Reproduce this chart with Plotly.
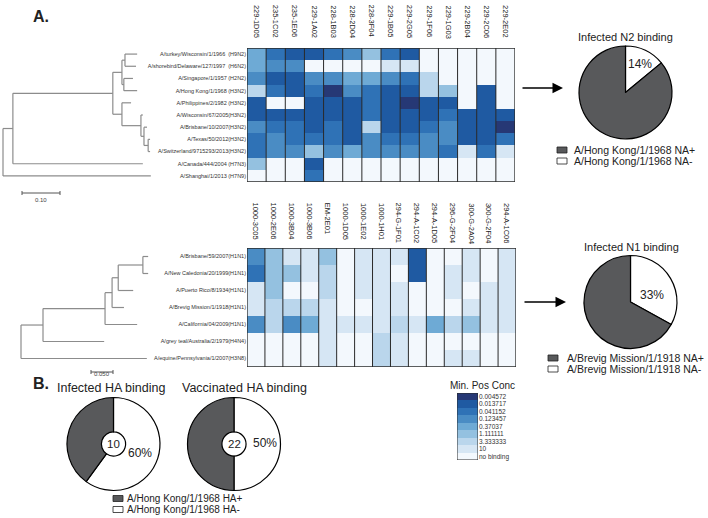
import plotly.graph_objects as go

W, H = 708, 518
def px(x): return x / W
def py(y): return 1 - y / H

FONT = "Arial, Liberation Sans, sans-serif"

# ---------------- data ----------------
top_strains = ["A/turkey/Wisconsin/1/1966  (H9N2)", "A/shorebird/Delaware/127/1997  (H6N2)",
               "A/Singapore/1/1957 (H2N2)", "A/Hong Kong/1/1968 (H3N2)", "A/Philippines/2/1982 (H3N2)",
               "A/Wisconsin/67/2005(H3N2)", "A/Brisbane/10/2007(H3N2)", "A/Texas/50/2012(H3N2)",
               "A/Switzerland/9715293/2013(H3N2)", "A/Canada/444/2004 (H7N3)", "A/Shanghai/1/2013 (H7N9)"]
top_mabs = ["229-1D05", "235-1C02", "235-1E06", "229-1A02", "228-1B03", "228-2D04", "228-3F04",
            "229-1B05", "229-2G05", "229-1F06", "229-1G03", "229-2B04", "229-2C06", "229-2E02"]
# binding level: 0 = no binding ... 8 = lowest min. positive concentration
top_levels = [
    [4, 6, 7, 7, 6, 5, 3, 6, 7, 0, 0, 0, 0, 0],
    [4, 5, 5, 0, 0, 0, 0, 1, 1, 0, 0, 0, 0, 0],
    [5, 7, 7, 5, 5, 4, 4, 5, 6, 2, 0, 0, 0, 0],
    [2, 6, 7, 6, 8, 5, 6, 7, 7, 2, 3, 0, 7, 0],
    [7, 0, 0, 7, 7, 7, 6, 7, 8, 7, 7, 0, 7, 0],
    [7, 7, 7, 7, 7, 7, 6, 7, 7, 7, 6, 7, 7, 7],
    [5, 6, 6, 7, 6, 7, 2, 7, 7, 6, 5, 7, 7, 8],
    [6, 5, 6, 6, 6, 7, 5, 6, 6, 5, 5, 7, 7, 6],
    [6, 5, 5, 3, 5, 4, 5, 5, 5, 5, 6, 1, 6, 1],
    [3, 0, 0, 7, 0, 0, 0, 0, 0, 0, 0, 0, 0, 0],
    [0, 0, 0, 6, 0, 0, 0, 0, 0, 0, 0, 0, 0, 0],
]

bot_strains = ["A/Brisbane/59/2007(H1N1)", "A/New Caledonia/20/1999(H1N1)", "A/Puerto Rico/8/1934(H1N1)",
               "A/Brevig Mission/1/1918(H1N1)", "A/California/04/2009(H1N1)",
               "A/grey teal/Australia/2/1979(H4N4)", "A/equine/Pennsylvania/1/2007(H3N8)"]
bot_mabs = ["1000-3C05", "1000-2E06", "1000-3B04", "1000-3B06", "EM-2E01", "1000-1D05", "1000-1E02",
            "1000-1H01", "294-G-1F01", "294-A-1C02", "294-A-1D05", "296-G-2F04", "300-G-2A04",
            "300-G-2F04", "294-A-1C06"]
bot_levels = [
    [5, 3, 1, 1, 3, 0, 1, 1, 1, 7, 0, 0, 1, 0, 1],
    [6, 3, 3, 1, 2, 0, 1, 1, 0, 7, 0, 1, 1, 0, 1],
    [1, 3, 0, 0, 2, 0, 1, 1, 1, 0, 0, 1, 0, 1, 1],
    [1, 2, 2, 2, 1, 0, 0, 1, 1, 0, 0, 0, 1, 1, 1],
    [5, 2, 5, 4, 1, 1, 1, 1, 2, 1, 4, 2, 3, 1, 1],
    [0, 0, 0, 0, 1, 0, 0, 2, 1, 0, 0, 0, 0, 0, 0],
    [0, 0, 0, 0, 1, 0, 0, 2, 1, 0, 0, 1, 1, 0, 0],
]

conc_labels = ["0.004572", "0.013717", "0.041152", "0.123457", "0.37037", "1.111111",
               "3.333333", "10", "no binding"]
conc_levels = [8, 7, 6, 5, 4, 3, 2, 1, 0]

# phylogenetic trees: (cumulative branch length, children or leaf row)
top_tree = (0.0, [
    (0.026, [
        (0.289, [
            (0.313, [
                (0.321, [(0.353, 0), (0.350, 1)]),
                (0.318, [(0.342, 2), (0.353, 3)]),
            ]),
            (0.313, [
                (0.337, 4),
                (0.363, [(0.368, 5),
                         (0.371, [(0.379, 6),
                                  (0.382, [(0.387, 7), (0.387, 8)])])]),
            ]),
        ]),
        (0.368, 9),
    ]),
    (0.389, 10),
])
bot_tree = (0.0, [
    (0.050, [
        (0.191, [
            (0.207, [
                (0.221, [(0.277, [(0.289, 0), (0.289, 1)]),
                         (0.255, 2)]),
                (0.234, 3),
            ]),
            (0.264, 4),
        ]),
        (0.189, 5),
    ]),
    (0.286, 6),
])

n2_pie = [14, 86]
n1_pie = [33, 67]
ha_inf_pie = [60, 40]
ha_vac_pie = [50, 50]
ha_counts = [10, 22]

# ---------------- styles ----------------
colors = ["#f3f8fd", "#d6e6f4", "#bad6ec", "#94c1e0", "#6eaad5", "#4a8cc4", "#2f72b6", "#1f5aa2", "#263875"]
nc = len(colors)
cscale = []
for k, c in enumerate(colors):
    cscale += [[k / nc, c], [(k + 1) / nc, c]]
GREY = "#58595b"
TREE = "#8c8c8c"

fig = go.Figure()

def heat(z, xa, ya):
    fig.add_trace(go.Heatmap(z=z, xaxis=xa, yaxis=ya, colorscale=cscale, zmin=-0.5, zmax=nc - 0.5,
                             showscale=False, hoverinfo="skip"))

heat(top_levels, "x", "y")
heat(bot_levels, "x2", "y2")
heat([[v] for v in conc_levels], "x5", "y5")

def tree_segs(node, xs, ys):
    d, ch = node
    if isinstance(ch, int):
        return ch
    cy = []
    for c in ch:
        y = tree_segs(c, xs, ys)
        xs += [d, c[0], None]
        ys += [y, y, None]
        cy.append(y)
    xs += [d, d, None]
    ys += [min(cy), max(cy), None]
    return (min(cy) + max(cy)) / 2

for tree, xa, ya in [(top_tree, "x3", "y"), (bot_tree, "x4", "y2")]:
    xs, ys = [], []
    tree_segs(tree, xs, ys)
    fig.add_trace(go.Scatter(x=xs, y=ys, xaxis=xa, yaxis=ya, mode="lines", cliponaxis=False,
                             line=dict(color=TREE, width=1.2), hoverinfo="skip", showlegend=False))

def pie(vals, cx, cy, r, hole=0):
    fig.add_trace(go.Pie(values=vals, labels=["neg", "pos"], marker=dict(colors=["white", GREY],
                         line=dict(color="black", width=1.2)), sort=False, direction="clockwise",
                         rotation=0, textinfo="none", hole=hole, hoverinfo="skip", showlegend=False,
                         domain=dict(x=[px(cx - r), px(cx + r)], y=[py(cy + r), py(cy - r)])))

pie(n2_pie, 625.5, 92.5, 46.5)
pie(n1_pie, 630.5, 302, 46.5)
pie(ha_inf_pie, 113.5, 444, 46.5, hole=0.26)
pie(ha_vac_pie, 234, 444, 46.5, hole=0.26)

ax_off = dict(showgrid=False, zeroline=False, showticklabels=False, ticks="", showline=False)
fig.update_layout(
    width=W, height=H, autosize=False, margin=dict(l=0, r=0, t=0, b=0),
    paper_bgcolor="white", plot_bgcolor="rgba(0,0,0,0)", showlegend=False,
    font=dict(family=FONT, color="#222"),
    xaxis=dict(domain=[px(247), px(515)], range=[-0.5, 13.5], **ax_off),
    yaxis=dict(domain=[py(182), py(48)], range=[10.5, -0.5], showgrid=False, zeroline=False, ticks="",
               tickvals=list(range(11)), ticktext=top_strains, tickfont=dict(size=5.5, color="#333")),
    xaxis2=dict(domain=[px(247), px(516)], range=[-0.5, 14.5], **ax_off),
    yaxis2=dict(domain=[py(367), py(248)], range=[6.5, -0.5], showgrid=False, zeroline=False, ticks="",
                tickvals=list(range(7)), ticktext=bot_strains, tickfont=dict(size=5.5, color="#333")),
    xaxis3=dict(domain=[0, px(160)], range=[-3 / 380, 157 / 380], anchor="y", **ax_off),
    xaxis4=dict(domain=[0, px(160)], range=[-21 / 440, 139 / 440], anchor="y2", **ax_off),
    xaxis5=dict(domain=[px(457), px(478)], range=[-0.5, 0.5], anchor="y5", **ax_off),
    yaxis5=dict(domain=[py(460), py(393)], range=[8.5, -0.5], anchor="x5", side="right",
                showgrid=False, zeroline=False, ticks="", tickvals=list(range(9)), ticktext=conc_labels,
                tickfont=dict(size=6.5, color="#333")),
)

shapes = []
# heatmap column separators + borders
for xa, ya, nx, ny in [("x", "y", 14, 11), ("x2", "y2", 15, 7)]:
    for k in range(nx - 1):
        shapes.append(dict(type="line", xref=xa, yref=ya, x0=k + 0.5, x1=k + 0.5, y0=-0.5, y1=ny - 0.5,
                           line=dict(color="#2a2a2a", width=1)))
    shapes.append(dict(type="rect", xref=xa, yref=ya, x0=-0.5, x1=nx - 0.5, y0=-0.5, y1=ny - 0.5,
                       line=dict(color="#2a2a2a", width=1.3)))
shapes.append(dict(type="rect", xref="x5", yref="y5", x0=-0.5, x1=0.5, y0=-0.5, y1=8.5,
                   line=dict(color="#2a2a2a", width=1)))
# scale bars
for xa, a, b, yy in [("x3", 0.05, 0.15, 193), ("x4", 70 / 440, 92 / 440, 372)]:
    shapes.append(dict(type="line", xref=xa, yref="paper", x0=a, x1=b, y0=py(yy), y1=py(yy),
                       line=dict(color="#555", width=1)))
    for e in (a, b):
        shapes.append(dict(type="line", xref=xa, yref="paper", x0=e, x1=e, y0=py(yy - 2), y1=py(yy + 2),
                           line=dict(color="#555", width=1)))
# pie legends swatches
leg = [(557, 150, GREY), (557, 161, "white"), (548, 358, GREY), (548, 369, "white"),
       (113, 498.5, GREY), (113, 509.5, "white")]
for lx, ly, c in leg:
    shapes.append(dict(type="rect", xref="paper", yref="paper", x0=px(lx), x1=px(lx + 10),
                       y0=py(ly + 3), y1=py(ly - 3), fillcolor=c, line=dict(color="#222", width=0.8)))
fig.update_layout(shapes=shapes)

ann = []
def txt(x, y, s, size, xanchor="center", bold=False, color="#222"):
    ann.append(dict(x=px(x), y=py(y), xref="paper", yref="paper", text=f"<b>{s}</b>" if bold else s,
                    showarrow=False, xanchor=xanchor, yanchor="middle",
                    font=dict(size=size, family=FONT, color=color)))

for i, m in enumerate(top_mabs):
    ann.append(dict(x=i, y=py(3), xref="x", yref="paper", text=m, textangle=90, showarrow=False,
                    xanchor="center", yanchor="top", font=dict(size=7.5, family=FONT, color="#222")))
for i, m in enumerate(bot_mabs):
    ann.append(dict(x=i, y=py(201), xref="x2", yref="paper", text=m, textangle=90, showarrow=False,
                    xanchor="center", yanchor="top", font=dict(size=7.5, family=FONT, color="#222")))

txt(31, 16, "A.", 16, "left", bold=True)
txt(31, 383, "B.", 16, "left", bold=True)
ann.append(dict(x=0.1, y=py(200), xref="x3", yref="paper", text="0.10", showarrow=False,
                font=dict(size=6, family=FONT, color="#444")))
ann.append(dict(x=81 / 440, y=py(379), xref="x4", yref="paper", text="0.050", showarrow=False,
                font=dict(size=6, family=FONT, color="#444")))

txt(625, 37, "Infected N2 binding", 11)
txt(631, 247, "Infected N1 binding", 11)
txt(111, 388, "Infected HA binding", 12.5)
txt(244, 388, "Vaccinated HA binding", 12.5)
txt(640, 64, f"{n2_pie[0]}%", 12)
txt(652, 295, f"{n1_pie[0]}%", 12)
txt(140, 453, f"{ha_inf_pie[0]}%", 12)
txt(265, 443, f"{ha_vac_pie[0]}%", 12)
txt(113.5, 444, str(ha_counts[0]), 11.5)
txt(234, 444, str(ha_counts[1]), 11.5)
txt(572, 150, "A/Hong Kong/1/1968 NA+", 10.5, "left")
txt(572, 161, "A/Hong Kong/1/1968 NA-", 10.5, "left")
txt(565, 358, "A/Brevig Mission/1/1918 NA+", 10.5, "left")
txt(565, 369, "A/Brevig Mission/1/1918 NA-", 10.5, "left")
txt(125, 498.5, "A/Hong Kong/1/1968 HA+", 10, "left")
txt(125, 509.5, "A/Hong Kong/1/1968 HA-", 10, "left")
txt(483, 385, "Min. Pos Conc", 10)

for x0, x1, yy in [(521, 563, 88), (523, 566, 302)]:
    ann.append(dict(x=px(x1), y=py(yy), xref="paper", yref="paper", ax=x0 - x1, ay=0,
                    text="", showarrow=True, arrowhead=2,
                    arrowsize=1.4, arrowwidth=1.5, arrowcolor="black"))

fig.update_layout(annotations=ann)
fig.write_html("out.html", config={"displayModeBar": False},
               post_script="document.body.style.margin='0';document.body.style.padding='0';")
